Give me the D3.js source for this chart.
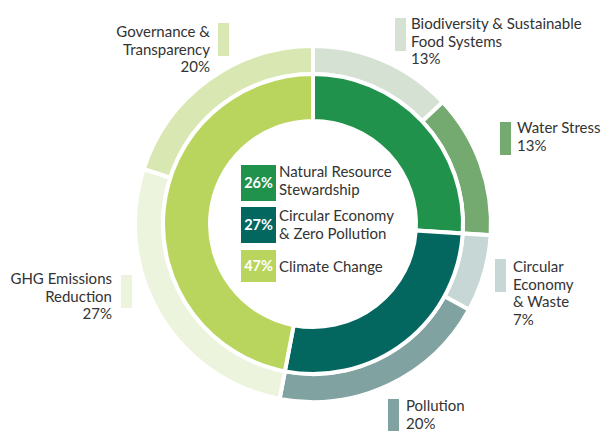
<!DOCTYPE html>
<html>
<head>
<meta charset="utf-8">
<script src="https://cdn.jsdelivr.net/npm/d3@7/dist/d3.min.js"></script>
<style>
  html, body { margin: 0; padding: 0; background: #fff; }
  svg { display: block; font-family: Lato, "Open Sans", sans-serif; }
</style>
</head>
<body>
<svg id="chart" width="606" height="431"></svg>
<script>
// ---- Data ----
const innerCategories = ["Natural Resource Stewardship", "Circular Economy & Zero Pollution", "Climate Change"];
const innerValues = [26, 27, 47];
const innerLegendLines = [["Natural Resource", "Stewardship"], ["Circular Economy", "& Zero Pollution"], ["Climate Change"]];

const outerCategories = ["Biodiversity & Sustainable Food Systems", "Water Stress", "Circular Economy & Waste", "Pollution", "GHG Emissions Reduction", "Governance & Transparency"];
const outerValues = [13, 13, 7, 20, 27, 20];
const outerLabelLines = [
  ["Biodiversity & Sustainable", "Food Systems"],
  ["Water Stress"],
  ["Circular", "Economy", "& Waste"],
  ["Pollution"],
  ["GHG Emissions", "Reduction"],
  ["Governance &", "Transparency"]
];

// ---- Styles / layout ----
const innerColors = ["#21924b", "#03675f", "#b9d55e"];
const outerColors = ["#d5e2d3", "#74a970", "#c7d7d5", "#80a3a1", "#edf4de", "#d9e8b3"];
const cx = 313, cy = 224;
const lineH = 17.6;
const outerLabelLayout = [
  { bx: 395, by: 18, side: "right", tx: 411, ty: 29 },
  { bx: 500, by: 122, side: "right", tx: 517, ty: 133 },
  { bx: 495, by: 259, side: "right", tx: 513, ty: 272 },
  { bx: 388, by: 399, side: "right", tx: 406, ty: 411 },
  { bx: 121, by: 275, side: "left", tx: 112, ty: 284 },
  { bx: 218, by: 23, side: "left", tx: 210, ty: 37 }
];
const legendLayout = { bx: 241, bw: 35, tx: 279, lh: 17.5, rows: [
  { by: 165, bh: 36, ty: 177 },
  { by: 207, bh: 36, ty: 221 },
  { by: 250, bh: 32, ty: 272 }
]};

const svg = d3.select("#chart");
const pie = d3.pie().sort(null).value(d => d);

const innerArc = d3.arc().innerRadius(103).outerRadius(150);
const outerArc = d3.arc().innerRadius(150).outerRadius(178);

const g = svg.append("g").attr("transform", `translate(${cx},${cy})`);

g.selectAll("path.outer")
  .data(pie(outerValues))
  .join("path")
  .attr("class", "outer")
  .attr("d", outerArc)
  .attr("fill", (d, i) => outerColors[i])
  .attr("stroke", "#fff")
  .attr("stroke-width", 4);

g.selectAll("path.inner")
  .data(pie(innerValues))
  .join("path")
  .attr("class", "inner")
  .attr("d", innerArc)
  .attr("fill", (d, i) => innerColors[i])
  .attr("stroke", "#fff")
  .attr("stroke-width", 4);

// Outer labels
outerValues.forEach((v, i) => {
  const L = outerLabelLayout[i];
  const lines = outerLabelLines[i].concat([v + "%"]);
  svg.append("rect")
    .attr("x", L.bx).attr("y", L.by)
    .attr("width", 11).attr("height", 33)
    .attr("fill", outerColors[i]);
  const t = svg.append("text")
    .attr("x", L.tx).attr("y", L.ty)
    .attr("text-anchor", L.side === "left" ? "end" : "start")
    .attr("font-size", 15)
    .attr("fill", "#333");
  lines.forEach((ln, j) => {
    t.append("tspan").attr("x", L.tx).attr("y", L.ty + j * lineH).text(ln);
  });
});

// Center legend
innerValues.forEach((v, i) => {
  const R = legendLayout.rows[i];
  svg.append("rect")
    .attr("x", legendLayout.bx).attr("y", R.by)
    .attr("width", legendLayout.bw).attr("height", R.bh)
    .attr("fill", innerColors[i]);
  svg.append("text")
    .attr("x", legendLayout.bx + legendLayout.bw / 2)
    .attr("y", R.by + R.bh / 2 + 5)
    .attr("text-anchor", "middle")
    .attr("font-size", 14.5)
    .attr("font-weight", "bold")
    .attr("fill", "#fff")
    .text(v + "%");
  const lines = innerLegendLines[i];
  const t = svg.append("text")
    .attr("font-size", 15)
    .attr("fill", "#333");
  lines.forEach((ln, j) => {
    t.append("tspan").attr("x", legendLayout.tx).attr("y", R.ty + j * legendLayout.lh).text(ln);
  });
});
</script>
</body>
</html>
